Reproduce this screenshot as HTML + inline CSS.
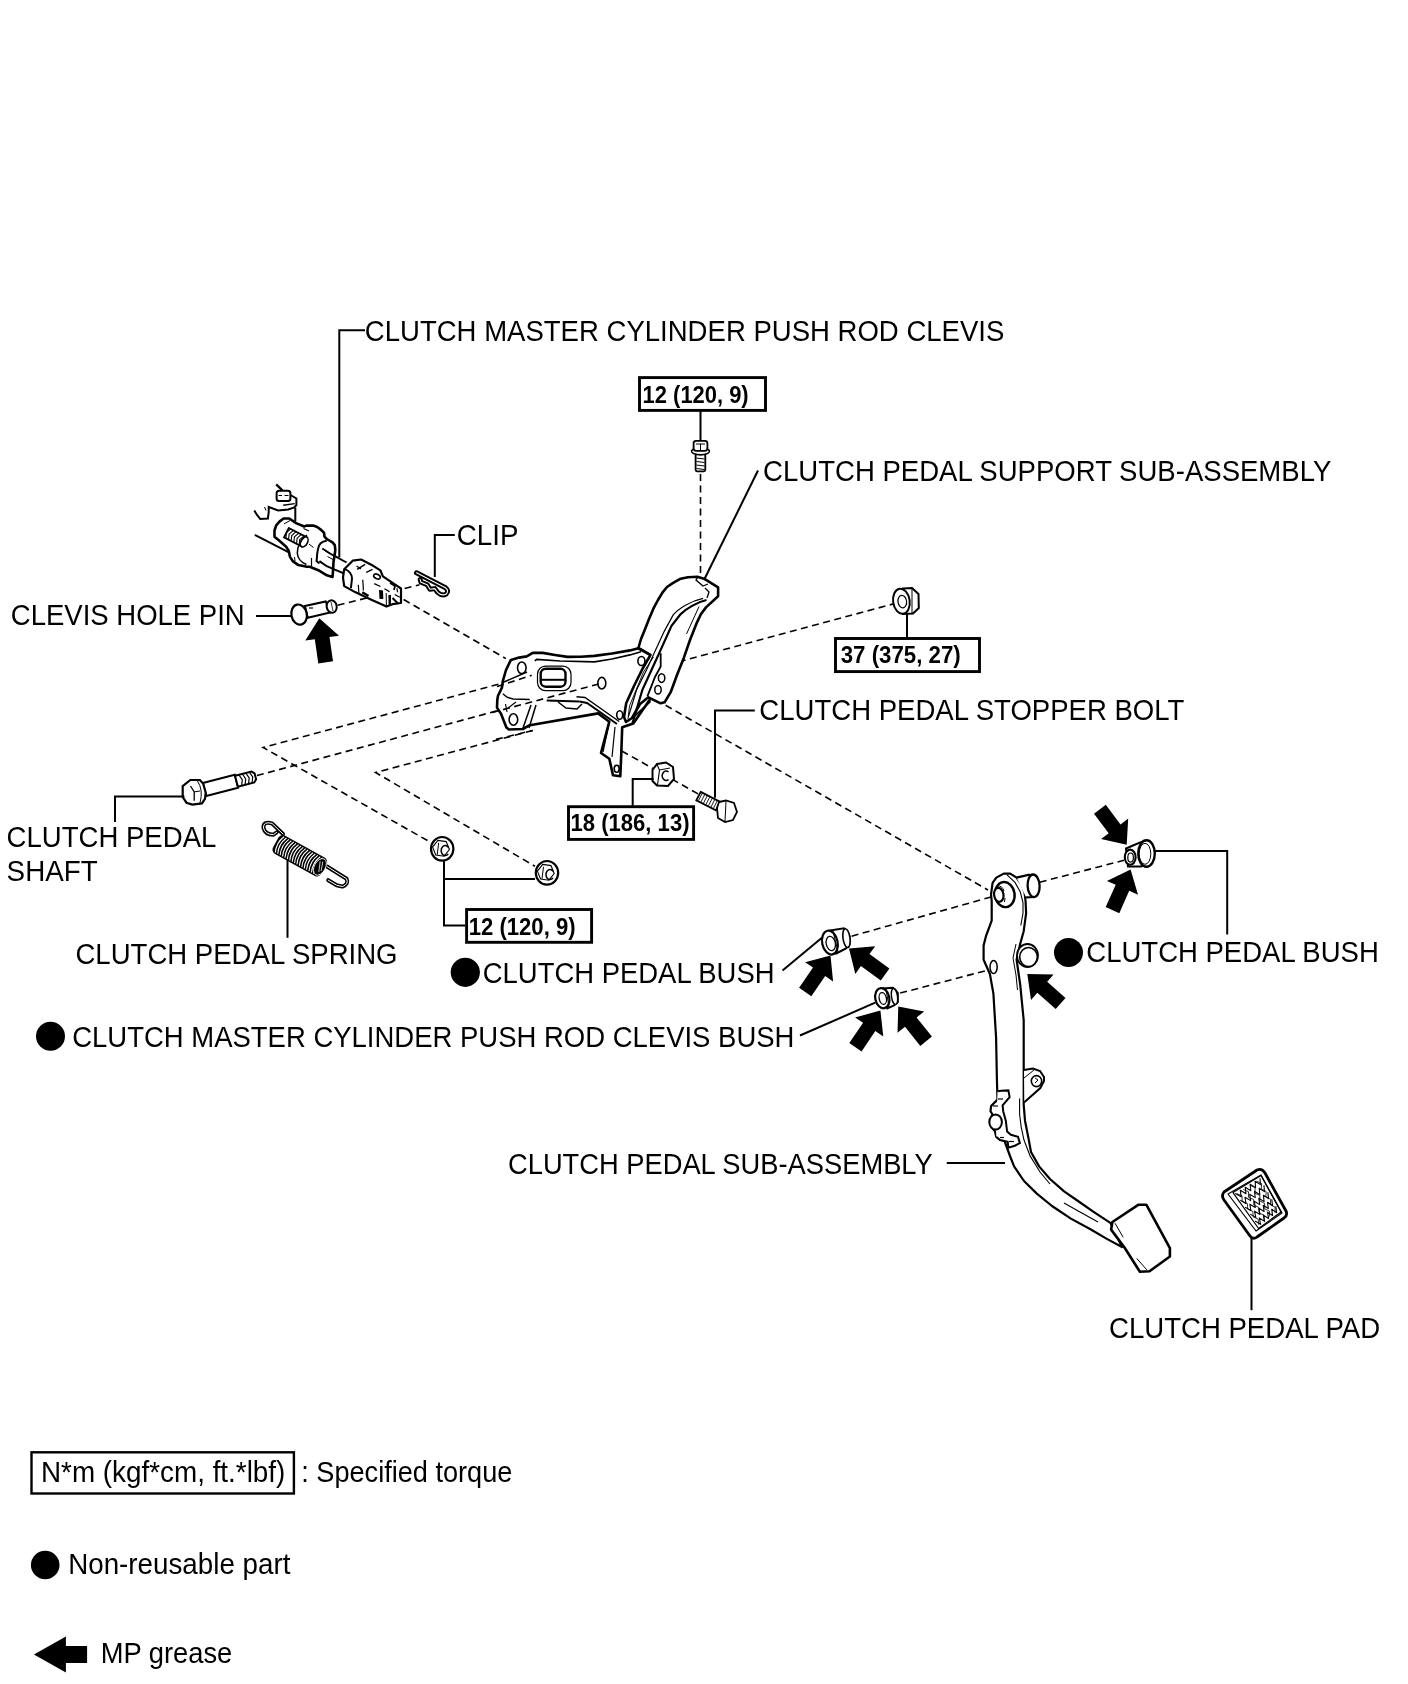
<!DOCTYPE html>
<html><head><meta charset="utf-8"><style>
html,body{margin:0;padding:0;background:#fff;}
svg{display:block;will-change:transform;}
text{font-family:"Liberation Sans",sans-serif;fill:#000;}
</style></head><body>
<svg width="1408" height="1684" viewBox="0 0 1408 1684">
<rect width="1408" height="1684" fill="#fff"/>
<path d="M700.5 474 L700.5 580" fill="none" stroke="#000" stroke-width="1.6" stroke-dasharray="7 4.5"/>
<path d="M337.7 605.2 L419.5 584.8" fill="none" stroke="#000" stroke-width="1.6" stroke-dasharray="7 4.5"/>
<path d="M403.6 599.5 L505.9 658.6" fill="none" stroke="#000" stroke-width="1.6" stroke-dasharray="7 4.5"/>
<path d="M256.9 775.6 L893 604" fill="none" stroke="#000" stroke-width="1.6" stroke-dasharray="7 4.5"/>
<path d="M531.7 675.3 L263.1 747.5 L428.8 841.3" fill="none" stroke="#000" stroke-width="1.6" stroke-dasharray="7 4.5"/>
<path d="M532.7 730.5 L375.6 772.5 L535 866.3" fill="none" stroke="#000" stroke-width="1.6" stroke-dasharray="7 4.5"/>
<path d="M621.8 751 L701 795.5" fill="none" stroke="#000" stroke-width="1.6" stroke-dasharray="7 4.5"/>
<path d="M665.6 705.3 L988 890" fill="none" stroke="#000" stroke-width="1.6" stroke-dasharray="7 4.5"/>
<path d="M851.6 936.2 L998 895" fill="none" stroke="#000" stroke-width="1.6" stroke-dasharray="7 4.5"/>
<path d="M1039.7 882.2 L1124 860.3" fill="none" stroke="#000" stroke-width="1.6" stroke-dasharray="7 4.5"/>
<path d="M900.2 993.1 L993.4 968.7" fill="none" stroke="#000" stroke-width="1.6" stroke-dasharray="7 4.5"/>
<path d="M502.9 680.8 L506 670 L510.9 659.9 L519 657.6 L526.8 656.4 L532.7 652.9 L542.7 652.9 L555 655 L567.5 656.9 L581 656.8 L594.4 655.9 L612 653.5 L630 650.4 L638.4 648.3 L650.5 654.9 L649.9 699.6 L633.3 723.6 L622.2 727.3 L621.3 753.1 L620.3 776.2 L613 775.3 L609.3 758.7 L601 753 L609.3 721.7 L598.2 713.4 L529.8 725.2 L522.8 729 L508.9 729.5 L506.4 727.5 L500.9 713.6 L497 707.6 L497.3 700 L498 695.7 L501.9 687.7 Z" fill="#fff" stroke="#000" stroke-width="2.6" stroke-linejoin="round"/>
<path d="M534.7 660.9 L536.7 659.4 L560 661 L594.4 661.9 L612 659 L630 654.9 L641 651.8" fill="none" stroke="#000" stroke-width="1.6"/>
<rect x="540.7" y="668.8" width="24.8" height="17.9" rx="5" fill="#fff" stroke="#000" stroke-width="2.4"/>
<path d="M540.7 679.8 L565.5 679.8" fill="none" stroke="#000" stroke-width="2"/>
<rect x="537.5" y="666.2" width="33.5" height="24.4" rx="8" fill="none" stroke="#000" stroke-width="1.2"/>
<ellipse cx="521.8" cy="667.8" rx="4.3" ry="5.8" transform="rotate(0 521.8 667.8)" fill="none" stroke="#000" stroke-width="1.6"/>
<ellipse cx="601.8" cy="683.2" rx="4" ry="5.8" transform="rotate(0 601.8 683.2)" fill="none" stroke="#000" stroke-width="1.6"/>
<ellipse cx="513.4" cy="719.5" rx="4.3" ry="5.8" transform="rotate(0 513.4 719.5)" fill="none" stroke="#000" stroke-width="1.6"/>
<ellipse cx="619.7" cy="715" rx="3" ry="4.2" transform="rotate(0 619.7 715)" fill="none" stroke="#000" stroke-width="1.6"/>
<ellipse cx="641.4" cy="661" rx="3.5" ry="4.5" transform="rotate(0 641.4 661)" fill="none" stroke="#000" stroke-width="1.6"/>
<ellipse cx="616.7" cy="768.8" rx="2.5" ry="3.5" transform="rotate(0 616.7 768.8)" fill="none" stroke="#000" stroke-width="1.6"/>
<path d="M502.9 693.7 L506.9 697.2 L513 699 L529.8 699.6" fill="none" stroke="#000" stroke-width="1.5"/>
<path d="M504 682 L527 672" fill="none" stroke="#000" stroke-width="1.5"/>
<path d="M516 702 L508 708" fill="none" stroke="#000" stroke-width="1.2"/>
<path d="M531 705 L523 728" fill="none" stroke="#000" stroke-width="1.5"/>
<path d="M536 705 L529 728" fill="none" stroke="#000" stroke-width="1.5"/>
<path d="M505.5 704 L507 712" fill="none" stroke="#000" stroke-width="1.2"/>
<path d="M546.7 700.6 L579.5 701.6" fill="none" stroke="#000" stroke-width="2"/>
<path d="M558 702 L566 708 L577 709 L582 704" fill="none" stroke="#000" stroke-width="1.5"/>
<path d="M576.5 696.7 L585 697.5 L619.2 721.5" fill="none" stroke="#000" stroke-width="1.4"/>
<path d="M579.5 701.6 L587 703 L617 724" fill="none" stroke="#000" stroke-width="2"/>
<path d="M609 724 L603 752" fill="none" stroke="#000" stroke-width="1.2"/>
<path d="M615 727 L612 757" fill="none" stroke="#000" stroke-width="1.2"/>
<path d="M638.4 648 L641 639 L644.4 630.7 L649 619 L653.5 608.4 L658 600 L662.6 592.3 L667 587 L672.7 583.2 L680.7 578.7 L688 577.3 L697.3 576.7 L704 578.7 L718.1 587.3 L718.1 596.3 L706 607.4 L701 614 L696.9 622.6 L690 640 L683.8 657.9 L677 675 L670.7 692.2 L664.6 702.3 L660.6 703.3 L648.4 697.3 L640 704 L632 718 L626 722 L624 717 L626.2 703.3 L634 686 L642.4 669 L650.5 654.9 Z" fill="#fff" stroke="#000" stroke-width="2.6" stroke-linejoin="round"/>
<path d="M703.1 598.3 C690 601, 678 609, 673.2 614.9 L664.1 631.6 L654.9 651.5 L646.6 669.8 L636.6 689.8 L628.3 717.2" fill="none" stroke="#000" stroke-width="1.2"/>
<path d="M706.5 600 C697 602, 686 609, 680.7 614.1 L671.5 625.7 L660.7 649.9 L651.6 669.8 L642.4 689.8 L635 714.7 L632.5 723" fill="none" stroke="#000" stroke-width="2.2"/>
<path d="M653.5 657 L643.5 672 L636 690 L629.5 706 L628 719" fill="none" stroke="#000" stroke-width="0.9"/>
<path d="M699 606.6 L686.5 634" fill="none" stroke="#000" stroke-width="1"/>
<path d="M698 576.8 L696 580 L703 586 L708 584" fill="none" stroke="#000" stroke-width="1.3"/>
<path d="M705 588 L709 592 L707 598" fill="none" stroke="#000" stroke-width="1.3"/>
<path d="M660.7 653.2 L660.7 666.5 L655 677 L647.4 696.4" fill="none" stroke="#000" stroke-width="1.8"/>
<ellipse cx="661.6" cy="678.1" rx="3.2" ry="4.3" transform="rotate(0 661.6 678.1)" fill="none" stroke="#000" stroke-width="1.5"/>
<ellipse cx="658" cy="689.7" rx="3.2" ry="4.3" transform="rotate(0 658 689.7)" fill="none" stroke="#000" stroke-width="1.5"/>
<path d="M650.5 701.3 L633.3 717.4" fill="none" stroke="#000" stroke-width="1.8"/>
<path d="M497 686.6 L531.7 675.3" fill="none" stroke="#000" stroke-width="1.6" stroke-dasharray="7 4.5"/>
<path d="M492 712.6 L600 683.6" fill="none" stroke="#000" stroke-width="1.6" stroke-dasharray="7 4.5"/>
<path d="M496 739.4 L532.7 730.5" fill="none" stroke="#000" stroke-width="1.6" stroke-dasharray="7 4.5"/>
<rect x="695.6" y="454.2" width="9.7" height="17.1" rx="1.5" fill="#fff" stroke="#000" stroke-width="1.8"/>
<path d="M696.5 458 L704.5 459" fill="none" stroke="#000" stroke-width="1"/>
<path d="M696.5 461.5 L704.5 462.5" fill="none" stroke="#000" stroke-width="1"/>
<path d="M696.5 465 L704.5 466" fill="none" stroke="#000" stroke-width="1"/>
<path d="M696.5 468.5 L704.5 469.5" fill="none" stroke="#000" stroke-width="1"/>
<ellipse cx="700.5" cy="451.3" rx="9" ry="3.6" transform="rotate(0 700.5 451.3)" fill="#fff" stroke="#000" stroke-width="1.6"/>
<rect x="693.6" y="440.8" width="13.8" height="10" rx="2.5" fill="#fff" stroke="#000" stroke-width="1.8"/>
<path d="M696 444 L705 444" fill="none" stroke="#000" stroke-width="1"/>
<path d="M700.5 444 L700.5 451" fill="none" stroke="#000" stroke-width="1"/>
<path d="M903 588.5 L912 588 L918.5 594 L918.8 608 L913 613.5 L903 614 Z" fill="#fff" stroke="#000" stroke-width="2"/>
<ellipse cx="901.4" cy="601.3" rx="8.3" ry="12.6" transform="rotate(-8 901.4 601.3)" fill="#fff" stroke="#000" stroke-width="2"/>
<ellipse cx="902.3" cy="601.6" rx="4.3" ry="6.3" transform="rotate(-8 902.3 601.6)" fill="none" stroke="#000" stroke-width="1.2"/>
<path d="M912 589 L912 613" fill="none" stroke="#000" stroke-width="1"/>
<path d="M657 764 L666 762.5 L673 767 L674 779 L668 786 L657 785.5 L652.5 781 L652.5 770 Z" fill="#fff" stroke="#000" stroke-width="2"/>
<path d="M657 764.5 L659.5 770 L657.5 785" fill="none" stroke="#000" stroke-width="1.1"/>
<path d="M659.5 770 L670 768" fill="none" stroke="#000" stroke-width="1"/>
<path d="M668.5 772 A3.8 4.8 0 1 0 668.5 779.5" fill="none" stroke="#000" stroke-width="1.5"/>
<path d="M700.7 791.9 L720.3 801.9 L715.9 810.4 L696.3 800.4 Z" fill="#fff" stroke="#000" stroke-width="1.8"/>
<path d="M702.1 793.5 L698.5 800.6" fill="none" stroke="#000" stroke-width="0.9"/>
<path d="M704.6 794.8 L701 801.9" fill="none" stroke="#000" stroke-width="0.9"/>
<path d="M707.1 796 L703.5 803.2" fill="none" stroke="#000" stroke-width="0.9"/>
<path d="M709.6 797.3 L706 804.4" fill="none" stroke="#000" stroke-width="0.9"/>
<path d="M712.1 798.6 L708.5 805.7" fill="none" stroke="#000" stroke-width="0.9"/>
<path d="M714.6 799.8 L711 807" fill="none" stroke="#000" stroke-width="0.9"/>
<path d="M717.1 801.1 L713.5 808.2" fill="none" stroke="#000" stroke-width="0.9"/>
<path d="M719 802 L726 800.5 L734 803 L737 812 L733 820 L725 822 L718 818 L717 808 Z" fill="#fff" stroke="#000" stroke-width="1.8"/>
<path d="M726 801 L725 821" fill="none" stroke="#000" stroke-width="1"/>
<path d="M202.8 783 L234.8 774.8 L238.1 787.7 L206.2 796 Z" fill="#fff" stroke="#000" stroke-width="2"/>
<path d="M235 775.8 L251.5 771.6 L254.6 773.5 L256.1 779.3 L254.3 782.4 L237.9 786.7 Z" fill="#fff" stroke="#000" stroke-width="2"/>
<path d="M239 775.1 L242.3 779.7 L241.6 785.4" fill="none" stroke="#000" stroke-width="1.2"/>
<path d="M242.5 774.2 L245.7 778.8 L245.1 784.5" fill="none" stroke="#000" stroke-width="1.2"/>
<path d="M246 773.3 L249.2 777.9 L248.6 783.6" fill="none" stroke="#000" stroke-width="1.2"/>
<path d="M249.5 772.4 L252.7 777 L252.1 782.7" fill="none" stroke="#000" stroke-width="1.2"/>
<path d="M182.7 786.1 L190.3 780 L199.9 780 L203.1 783.5 L205.7 792.5 L205 798.9 L201.9 803.4 L192.3 804.6 L186.5 802.7 L182.7 797 Z" fill="#fff" stroke="#000" stroke-width="2.2"/>
<path d="M190.5 786 L194.2 791.9 L194.2 800.8" fill="none" stroke="#000" stroke-width="1.3"/>
<path d="M194.2 791.9 L200 791" fill="none" stroke="#000" stroke-width="1"/>
<path d="M197.5 781 Q203.5 790 200 803" fill="none" stroke="#000" stroke-width="1"/>
<path d="M283 834 L272 823.4 Q263 821 263.5 828 Q265 834.5 273.5 834.7 L276.5 832.5" fill="none" stroke="#000" stroke-width="4" stroke-linecap="round" stroke-linejoin="round"/>
<path d="M283 834 L272 823.4 Q263 821 263.5 828 Q265 834.5 273.5 834.7 L276.5 832.5" fill="none" stroke="#fff" stroke-width="1" stroke-linecap="round" stroke-linejoin="round"/>
<path d="M327 866.5 L346.6 878.8 Q349 884 342.4 886.6 L336.7 885.2 L328.2 880.2" fill="none" stroke="#000" stroke-width="4" stroke-linecap="round" stroke-linejoin="round"/>
<path d="M327 866.5 L346.6 878.8 Q349 884 342.4 886.6 L336.7 885.2 L328.2 880.2" fill="none" stroke="#fff" stroke-width="1" stroke-linecap="round" stroke-linejoin="round"/>
<g transform="translate(298.5 855) rotate(29)">
<rect x="-26" y="-10.5" width="55" height="21" rx="5" fill="#000"/>
<path d="M-21.5 -9 Q-25.5 0 -21.5 9" fill="none" stroke="#fff" stroke-width="1.1"/>
<path d="M-18.8 -9 Q-22.8 0 -18.8 9" fill="none" stroke="#fff" stroke-width="1.1"/>
<path d="M-16.0 -9 Q-20.0 0 -16.0 9" fill="none" stroke="#fff" stroke-width="1.1"/>
<path d="M-13.2 -9 Q-17.2 0 -13.2 9" fill="none" stroke="#fff" stroke-width="1.1"/>
<path d="M-10.5 -9 Q-14.5 0 -10.5 9" fill="none" stroke="#fff" stroke-width="1.1"/>
<path d="M-7.8 -9 Q-11.8 0 -7.8 9" fill="none" stroke="#fff" stroke-width="1.1"/>
<path d="M-5.0 -9 Q-9.0 0 -5.0 9" fill="none" stroke="#fff" stroke-width="1.1"/>
<path d="M-2.2 -9 Q-6.2 0 -2.2 9" fill="none" stroke="#fff" stroke-width="1.1"/>
<path d="M0.5 -9 Q-3.5 0 0.5 9" fill="none" stroke="#fff" stroke-width="1.1"/>
<path d="M3.2 -9 Q-0.8 0 3.2 9" fill="none" stroke="#fff" stroke-width="1.1"/>
<path d="M6.0 -9 Q2.0 0 6.0 9" fill="none" stroke="#fff" stroke-width="1.1"/>
<path d="M8.8 -9 Q4.8 0 8.8 9" fill="none" stroke="#fff" stroke-width="1.1"/>
<path d="M11.5 -9 Q7.5 0 11.5 9" fill="none" stroke="#fff" stroke-width="1.1"/>
<path d="M14.2 -9 Q10.2 0 14.2 9" fill="none" stroke="#fff" stroke-width="1.1"/>
<path d="M17.0 -9 Q13.0 0 17.0 9" fill="none" stroke="#fff" stroke-width="1.1"/>
<path d="M19.8 -9 Q15.8 0 19.8 9" fill="none" stroke="#fff" stroke-width="1.1"/>
<path d="M22.5 -9 Q18.5 0 22.5 9" fill="none" stroke="#fff" stroke-width="1.1"/>
<path d="M25.2 -9 Q21.2 0 25.2 9" fill="none" stroke="#fff" stroke-width="1.1"/>
<ellipse cx="24.5" cy="0" rx="5.5" ry="9" fill="#000" stroke="#fff" stroke-width="0.8"/>
<path d="M22 -5 L26 5 M24.5 -6 L27.5 3" stroke="#fff" stroke-width="0.7"/>
</g>
<ellipse cx="442.2" cy="848.8" rx="11.2" ry="11.8" transform="rotate(0 442.2 848.8)" fill="#fff" stroke="#000" stroke-width="2.2"/>
<path d="M432.6 847.1 L437.9 840.4 L446.2 841.6 L449.4 849.5 L444.1 856.2 L435.8 855 Z" fill="none" stroke="#000" stroke-width="1.1"/>
<path d="M438.7 842.8 L437.2 854.8" fill="none" stroke="#000" stroke-width="1"/>
<path d="M448.2 847.3 A4 5 0 1 0 448.2 853.8" fill="none" stroke="#000" stroke-width="1.5"/>
<ellipse cx="547" cy="872.8" rx="11.2" ry="11.8" transform="rotate(0 547 872.8)" fill="#fff" stroke="#000" stroke-width="2.2"/>
<path d="M537.4 871.1 L542.7 864.4 L551 865.6 L554.2 873.5 L548.9 880.2 L540.6 879 Z" fill="none" stroke="#000" stroke-width="1.1"/>
<path d="M543.5 866.8 L542 878.8" fill="none" stroke="#000" stroke-width="1"/>
<path d="M553.0 871.3 A4 5 0 1 0 553.0 877.8" fill="none" stroke="#000" stroke-width="1.5"/>
<path d="M304.9 605.9 L325.7 601.4 L330 612.5 L307.8 617.8 Z" fill="#fff" stroke="#000" stroke-width="2"/>
<ellipse cx="331.7" cy="606.6" rx="5" ry="6.3" transform="rotate(-10 331.7 606.6)" fill="#fff" stroke="#000" stroke-width="2"/>
<path d="M331 602 L333 611" fill="none" stroke="#000" stroke-width="0.8"/>
<ellipse cx="299.1" cy="614.6" rx="7.7" ry="10.2" transform="rotate(-12 299.1 614.6)" fill="#fff" stroke="#000" stroke-width="2.2"/>
<path d="M309 608 L313 608" fill="none" stroke="#000" stroke-width="1.2"/>
<path d="M416.5 572.8 L445.5 587.8 Q449.5 591 446 594.3 Q441.5 596.2 437.5 592.3 L434.8 588.6 L430 589.3 L427.2 584.8 L421 582.3 L420.2 579.6" fill="none" stroke="#000" stroke-width="5" stroke-linecap="round" stroke-linejoin="round"/>
<path d="M416.5 572.8 L445.5 587.8 Q449.5 591 446 594.3 Q441.5 596.2 437.5 592.3 L434.8 588.6 L430 589.3 L427.2 584.8 L421 582.3 L420.2 579.6" fill="none" stroke="#fff" stroke-width="1.1" stroke-linecap="round" stroke-linejoin="round"/>
<path d="M254.8 534.8 L292.3 554.1" fill="none" stroke="#000" stroke-width="2"/>
<path d="M254.3 510.4 L257 515 L260.2 518.9 L267.9 518.5 L268.7 512.1 L268.7 507 L278.1 510.4 L288.3 509.5 L294.3 507.4 L296.4 505 L296.4 498.5 L290.5 495" fill="none" stroke="#000" stroke-width="2"/>
<path d="M264.5 507 L266 510.5" fill="none" stroke="#000" stroke-width="1"/>
<path d="M276.2 484.4 L282.4 490.4" fill="none" stroke="#000" stroke-width="2.2"/>
<path d="M295.3 507.5 L295.3 521" fill="none" stroke="#000" stroke-width="2"/>
<path d="M283.2 505.3 L294.7 503.6" fill="none" stroke="#000" stroke-width="1.4"/>
<rect x="276.6" y="490.8" width="13.8" height="10.3" rx="2.5" fill="#fff" stroke="#000" stroke-width="2"/>
<path d="M278.5 495.5 L282 495.5 M284.5 495.5 L288.5 495.5" stroke="#000" stroke-width="1.1"/>
<path d="M283.6 518.5 L289.3 518.5 L296.1 523.1 L304.1 526.5 L306.4 525.6 L313.2 525.6 L317.2 527 L321.1 529.9 L324 532.7 L324.5 536.7 L326.8 539 L332.5 542.4 L334.8 545.2 L335.3 549.8 L334.8 553.8 L333.5 562 L333 571 L332.5 577 L326.8 575.3 L318.3 570.2 L309.8 566.8 L306.9 566.8 L298.4 565.1 L292.7 561.1 L289.9 556.6 L288.8 550.9 L285.9 546.4 L278.5 540.1 L274.5 536.7 L274.5 530.5 L276.2 525.3 L279.7 521.4 Z" fill="#fff" stroke="#000" stroke-width="2.6" stroke-linejoin="round"/>
<path d="M288.8 528 L306.6 537.2 L301.8 546.6 L284 537.4 Z" fill="#fff" stroke="#000" stroke-width="1.8"/>
<path d="M290.5 529.2 L286.4 532.7 L285.9 538.1" fill="none" stroke="#000" stroke-width="1.1"/>
<path d="M293.2 530.6 L289.1 534.1 L288.6 539.4" fill="none" stroke="#000" stroke-width="1.1"/>
<path d="M295.8 531.9 L291.7 535.5 L291.2 540.8" fill="none" stroke="#000" stroke-width="1.1"/>
<path d="M298.5 533.3 L294.4 536.8 L293.9 542.2" fill="none" stroke="#000" stroke-width="1.1"/>
<path d="M301.1 534.7 L297.1 538.2 L296.6 543.6" fill="none" stroke="#000" stroke-width="1.1"/>
<path d="M303.8 536.1 L299.7 539.6 L299.2 545" fill="none" stroke="#000" stroke-width="1.1"/>
<ellipse cx="304.2" cy="541.9" rx="3.3" ry="5.5" transform="rotate(27 304.2 541.9)" fill="#fff" stroke="#000" stroke-width="1.6"/>
<path d="M306.9 535 Q297 543 297.3 553.2 Q298 561 306.4 564.5" fill="none" stroke="#000" stroke-width="1.5"/>
<path d="M326.8 540.7 Q319 541.5 318 549 L317.2 553.75 L316.6 561.1 L319.4 563.4" fill="none" stroke="#000" stroke-width="2"/>
<path d="M284 524 L290 520.5" fill="none" stroke="#000" stroke-width="1"/>
<path d="M309 544 L313.5 547.5" fill="none" stroke="#000" stroke-width="1"/>
<path d="M294.5 557 L295 561" fill="none" stroke="#000" stroke-width="1"/>
<path d="M311.5 558 L311.5 566" fill="none" stroke="#000" stroke-width="1.2"/>
<path d="M303.5 528.5 L309 531" fill="none" stroke="#000" stroke-width="1.2"/>
<path d="M322.3 548.6 L332.5 554.9 L346.6 562.5" fill="none" stroke="#000" stroke-width="1.8"/>
<path d="M319.4 561.1 L326.8 566.2 L334.8 569.7 L344.2 573.5" fill="none" stroke="#000" stroke-width="2"/>
<path d="M324.5 550.5 L330 554" fill="none" stroke="#000" stroke-width="1"/>
<path d="M327.5 556.5 L333 559.5" fill="none" stroke="#000" stroke-width="1"/>
<path d="M336 556 L343 561" fill="none" stroke="#000" stroke-width="1"/>
<path d="M344.2 569.2 L352.7 560.7 L361.1 559.5 L370.8 564.4 L380.4 570.4 L382.9 576.4 L393.7 583.7 L401 588.5 L401 603 L392.5 604.2 L386.5 606.6 L370.8 599.4 L355.1 592.1 L344.2 586.1 L343 577.7 Z" fill="#fff" stroke="#000" stroke-width="2.2" stroke-linejoin="round"/>
<path d="M344.4 568.9 Q352 572 352 578.5 L350.9 588.2" fill="none" stroke="#000" stroke-width="2"/>
<path d="M357.2 569.4 L365.1 564.3" fill="none" stroke="#000" stroke-width="1.6"/>
<path d="M366.2 572.3 L372.5 569.4" fill="none" stroke="#000" stroke-width="1.4"/>
<path d="M356.5 566 L361 569" fill="none" stroke="#000" stroke-width="1.2"/>
<ellipse cx="377" cy="576.5" rx="3.5" ry="2.2" transform="rotate(25 377 576.5)" fill="none" stroke="#000" stroke-width="1.6"/>
<path d="M374.2 583.6 L380.5 586.5" fill="none" stroke="#000" stroke-width="1.3"/>
<path d="M362.8 579.7 L363.4 590.5" fill="none" stroke="#000" stroke-width="1.2"/>
<path d="M358.3 584.8 L358.9 593.3" fill="none" stroke="#000" stroke-width="1.2"/>
<path d="M362.3 592.2 L368.5 596.1" fill="none" stroke="#000" stroke-width="2.4"/>
<path d="M384.4 588.8 L389.5 591.6" fill="none" stroke="#000" stroke-width="1.2"/>
<path d="M394.7 594.4 L399.8 597.3" fill="none" stroke="#000" stroke-width="1.2"/>
<path d="M397 588.2 L397.5 592.2" fill="none" stroke="#000" stroke-width="1.2"/>
<path d="M390 583 L395 586 L394 590" fill="none" stroke="#000" stroke-width="1.8"/>
<path d="M379 590 L383 590.5 L383.3 599 L379.5 599 Z" fill="#000"/>
<path d="M388.4 595 L391 595 L391 605.5 L388.6 605.5 Z" fill="#000"/>
<path d="M386.2 593 L386.4 606" fill="none" stroke="#000" stroke-width="1"/>
<path d="M392.5 598 L398 603.5" fill="none" stroke="#000" stroke-width="2"/>
<path d="M996.3 877.6 L992.6 882.9 L991 894.6 L991.7 901 L991.7 920.6 L986 936 L983.6 945.5 L983.6 959.7 L989.9 974 L993.4 993.6 L996.1 1038 L996.9 1079.2 L997.5 1099.6 L991.1 1106 L990.5 1111.2 L992.4 1114.3 L990 1122 L993 1129 L994.9 1131 L996.2 1136.7 L1000 1139.9 L1004.5 1141 L1010 1156 L1014.1 1166.4 L1024 1181 L1036.8 1193.6 L1052 1206 L1070.9 1218.6 L1090 1229 L1107.3 1239.1 L1122 1247 L1110.7 1223.2 L1093.6 1211.8 L1078 1201 L1064.1 1191.4 L1050 1179 L1039.1 1166.4 L1031 1152 L1028.8 1139.9 L1025 1120.7 L1023.7 1104.8 L1023.7 1064.8 L1023.7 1020.3 L1020.2 984.7 L1016.6 959.7 L1020.2 943.7 L1023.7 931.2 L1026.1 913.3 L1025.6 901.6 L1024.5 892 L1021.9 885 L1016.6 877.6 L1010.2 873.6 L1003.8 873.6 Z" fill="#fff" stroke="#000" stroke-width="2.2" stroke-linejoin="round"/>
<path d="M1007 874.9 L1015 882.4 L1020.3 892 L1023 902.6 L1023 913.3 L1020.8 925.5" fill="none" stroke="#000" stroke-width="1.1"/>
<path d="M1016 944 L1013 958 L1016 975 L1017.5 990" fill="none" stroke="#000" stroke-width="1"/>
<path d="M1019.6 1098.4 L1019.6 1114.3 L1021.2 1127.1 L1024 1140 L1030.1 1155.9 L1040 1172 L1050 1184" fill="none" stroke="#000" stroke-width="1.1"/>
<path d="M1064 1203 L1080 1212 L1098 1222" fill="none" stroke="#000" stroke-width="1.1"/>
<path d="M997.5 1091.3 L1001.3 1090.7 L1008.4 1090.4 L1009.6 1097.1 L1005.8 1101.6 L1002.6 1105.4 L1003.2 1111.2 L1005.8 1120.7 L1007.1 1131.6 L1010.9 1134.8 L1018 1136.7 L1019.9 1143.1 L1014.8 1145.7 L1008.4 1147.6 L1007.7 1141.8 L1000 1139.9 L996.2 1136.7" fill="#fff" stroke="#000" stroke-width="2"/>
<path d="M998 1099 L1003 1099" fill="none" stroke="#000" stroke-width="1.2"/>
<path d="M993 1106 L998 1106" fill="none" stroke="#000" stroke-width="1.2"/>
<path d="M1000 1137.5 L1004 1137.5" fill="none" stroke="#000" stroke-width="1.2"/>
<path d="M1009 1141.5 L1014 1141.5" fill="none" stroke="#000" stroke-width="1.2"/>
<ellipse cx="995.6" cy="1122" rx="6.3" ry="7.5" transform="rotate(0 995.6 1122)" fill="#fff" stroke="#000" stroke-width="2"/>
<path d="M1024 1070 L1027 1069.5 L1033 1068.5 L1040 1071 L1044 1077 L1044 1081 L1040.3 1088.1 L1024.3 1102.2" fill="#fff" stroke="#000" stroke-width="2"/>
<ellipse cx="1036.5" cy="1081.1" rx="5.2" ry="5.5" transform="rotate(0 1036.5 1081.1)" fill="none" stroke="#000" stroke-width="1.6"/>
<path d="M1035 1078 L1038 1080 L1035 1083" fill="none" stroke="#000" stroke-width="1"/>
<path d="M1024 1078 L1034 1070" fill="none" stroke="#000" stroke-width="1"/>
<ellipse cx="1004.8" cy="894.6" rx="9.8" ry="12.6" transform="rotate(-8 1004.8 894.6)" fill="#fff" stroke="#000" stroke-width="2.4"/>
<ellipse cx="998.8" cy="894.8" rx="4.7" ry="7" transform="rotate(-8 998.8 894.8)" fill="#fff" stroke="#000" stroke-width="2.2"/>
<path d="M997 886 Q1002 885 1004 891" fill="none" stroke="#000" stroke-width="1"/>
<path d="M1005 898 L1004.5 902" fill="none" stroke="#000" stroke-width="1"/>
<path d="M1016.5 877.6 L1028.3 874.9 L1033.6 875 L1033 897 L1026.1 897.3" fill="#fff" stroke="#000" stroke-width="2.2"/>
<ellipse cx="1033.6" cy="885.8" rx="6" ry="11.3" transform="rotate(-3 1033.6 885.8)" fill="#fff" stroke="#000" stroke-width="2.3"/>
<ellipse cx="1027.5" cy="955.5" rx="10.5" ry="11.5" transform="rotate(0 1027.5 955.5)" fill="#fff" stroke="#000" stroke-width="1.8"/>
<ellipse cx="1028.5" cy="957" rx="8.8" ry="9.5" transform="rotate(0 1028.5 957)" fill="#fff" stroke="#000" stroke-width="1.6"/>
<ellipse cx="993.6" cy="967" rx="3.6" ry="6.5" transform="rotate(0 993.6 967)" fill="none" stroke="#000" stroke-width="1.5"/>
<path d="M1112.4 1222 L1138.6 1204.7 L1146.3 1204.7 L1169.9 1248.2 L1169.9 1256.5 L1149.5 1271.2 L1139.9 1271.8 L1124.5 1247.5 L1111.1 1229.6 Z" fill="#fff" stroke="#000" stroke-width="2.6" stroke-linejoin="round"/>
<path d="M1115 1223.2 L1123.2 1237.3" fill="none" stroke="#000" stroke-width="1"/>
<path d="M1136.7 1258.4 L1146.9 1269.9" fill="none" stroke="#000" stroke-width="1"/>
<path d="M1224 1192 Q1221 1196 1224 1200 L1250 1236 Q1253 1240 1257 1237 L1284 1218 Q1288 1215 1286 1211 L1265 1173 Q1262 1168 1257 1170 Z" fill="#fff" stroke="#000" stroke-width="2.8" stroke-linejoin="round"/>
<path d="M1228 1194 L1256 1231 L1282 1213 L1261 1175 Z" fill="none" stroke="#000" stroke-width="1.2" stroke-linejoin="round"/>
<path d="M1233 1192.6 L1258.6 1228.5 L1281 1212 L1261 1175.5 Z" fill="none" stroke="#000" stroke-width="1.2" stroke-linejoin="round"/>
<path d="M1235.3 1193.4 L1241.2 1196.7 L1240.3 1190.3 L1246 1193.7 L1245.2 1187.3 L1250.8 1190.7 L1250.1 1184.3 L1255.6 1187.6 L1255.1 1181.2 L1260.4 1184.6 L1260 1178.2" fill="none" stroke="#000" stroke-width="1.1" stroke-linejoin="round"/>
<path d="M1240.3 1200.3 L1246 1203.6 L1245 1197.3 L1250.6 1200.6 L1249.7 1194.2 L1255.2 1197.6 L1254.5 1191.2 L1259.8 1194.6 L1259.2 1188.2 L1264.4 1191.6 L1264 1185.2" fill="none" stroke="#000" stroke-width="1.1" stroke-linejoin="round"/>
<path d="M1245.2 1207.2 L1250.9 1210.5 L1249.8 1204.2 L1255.3 1207.5 L1254.3 1201.2 L1259.7 1204.6 L1258.8 1198.2 L1264.1 1201.6 L1263.4 1195.2 L1268.5 1198.6 L1267.9 1192.2" fill="none" stroke="#000" stroke-width="1.1" stroke-linejoin="round"/>
<path d="M1250.2 1214.1 L1255.8 1217.4 L1254.5 1211.1 L1259.9 1214.5 L1258.9 1208.1 L1264.1 1211.5 L1263.2 1205.2 L1268.3 1208.5 L1267.5 1202.2 L1272.5 1205.6 L1271.8 1199.2" fill="none" stroke="#000" stroke-width="1.1" stroke-linejoin="round"/>
<path d="M1255.1 1221 L1260.6 1224.4 L1259.3 1218 L1264.6 1221.4 L1263.4 1215.1 L1268.6 1218.5 L1267.5 1212.1 L1272.6 1215.5 L1271.7 1209.2 L1276.6 1212.6 L1275.8 1206.2" fill="none" stroke="#000" stroke-width="1.1" stroke-linejoin="round"/>
<path d="M1236.6 1193.6 L1242 1195.8 L1242.2 1201.3 L1247.4 1203.6 L1247.7 1209.1 L1252.8 1211.4 L1253.2 1216.9 L1258.2 1219.2 L1258.8 1224.7" fill="none" stroke="#000" stroke-width="0.8" stroke-linejoin="round"/>
<path d="M1243.3 1189.5 L1248.5 1191.7 L1248.5 1197.3 L1253.6 1199.5 L1253.8 1205 L1258.7 1207.3 L1259 1212.8 L1263.8 1215.1 L1264.2 1220.6" fill="none" stroke="#000" stroke-width="0.8" stroke-linejoin="round"/>
<path d="M1250 1185.3 L1255.1 1187.6 L1254.9 1193.2 L1259.8 1195.4 L1259.8 1201 L1264.6 1203.3 L1264.7 1208.8 L1269.4 1211.1 L1269.7 1216.6" fill="none" stroke="#000" stroke-width="0.8" stroke-linejoin="round"/>
<path d="M1256.7 1181.2 L1261.6 1183.5 L1261.3 1189.1 L1266.1 1191.4 L1265.9 1196.9 L1270.6 1199.2 L1270.5 1204.8 L1275 1207.1 L1275.1 1212.6" fill="none" stroke="#000" stroke-width="0.8" stroke-linejoin="round"/>
<path d="M830 930.5 L844 928.3 L849.5 936 L849.5 944 L846 948.5 L836.3 953.5 Z" fill="#fff" stroke="#000" stroke-width="2"/>
<ellipse cx="846.5" cy="938.1" rx="3.5" ry="9.5" transform="rotate(-8 846.5 938.1)" fill="#fff" stroke="#000" stroke-width="1.6"/>
<ellipse cx="829.9" cy="942.6" rx="7.7" ry="12.1" transform="rotate(-12 829.9 942.6)" fill="#fff" stroke="#000" stroke-width="2.2"/>
<ellipse cx="830.8" cy="943.5" rx="4.6" ry="7.2" transform="rotate(-12 830.8 943.5)" fill="none" stroke="#000" stroke-width="1.3"/>
<path d="M833 931 L838 952" fill="none" stroke="#000" stroke-width="1"/>
<path d="M882.3 988.4 L893 987.8 L897.8 993 L897.8 1002 L894 1005.5 L887.4 1008.4 Z" fill="#fff" stroke="#000" stroke-width="2"/>
<ellipse cx="894.5" cy="996.5" rx="3" ry="8" transform="rotate(-8 894.5 996.5)" fill="#fff" stroke="#000" stroke-width="1.4"/>
<ellipse cx="882.3" cy="998.2" rx="7" ry="10.2" transform="rotate(-12 882.3 998.2)" fill="#fff" stroke="#000" stroke-width="2.2"/>
<ellipse cx="882.8" cy="998.5" rx="3.6" ry="6" transform="rotate(-12 882.8 998.5)" fill="none" stroke="#000" stroke-width="1.3"/>
<path d="M886 989 L889 1007" fill="none" stroke="#000" stroke-width="1"/>
<path d="M1126 848.5 L1141 842 L1147 845 L1147 864 L1141 866.5 L1128 866.5 Z" fill="#fff" stroke="#000" stroke-width="2"/>
<ellipse cx="1146.5" cy="853.5" rx="8.3" ry="13.2" transform="rotate(0 1146.5 853.5)" fill="#fff" stroke="#000" stroke-width="2.4"/>
<ellipse cx="1145" cy="853.8" rx="5.8" ry="10.5" transform="rotate(0 1145 853.8)" fill="none" stroke="#000" stroke-width="1"/>
<ellipse cx="1130.2" cy="857.2" rx="5.4" ry="7.6" transform="rotate(0 1130.2 857.2)" fill="#fff" stroke="#000" stroke-width="2.1"/>
<ellipse cx="1130.6" cy="857.6" rx="2.8" ry="4.6" transform="rotate(0 1130.6 857.6)" fill="none" stroke="#000" stroke-width="1.2"/>
<path d="M339.3 557.5 L339.3 330.2 L365 330.2" fill="none" stroke="#000" stroke-width="2"/>
<path d="M700.5 411 L700.5 441" fill="none" stroke="#000" stroke-width="2"/>
<path d="M758 470.5 L704 580" fill="none" stroke="#000" stroke-width="2"/>
<path d="M454.8 535 L434.8 535 L434.8 577" fill="none" stroke="#000" stroke-width="2"/>
<path d="M256 615.9 L292 615.9" fill="none" stroke="#000" stroke-width="2"/>
<path d="M907 638 L907 613" fill="none" stroke="#000" stroke-width="2"/>
<path d="M754.8 710.5 L715 710.5 L715 797.7" fill="none" stroke="#000" stroke-width="2"/>
<path d="M632.7 805.7 L632.7 779 L653.6 779" fill="none" stroke="#000" stroke-width="2"/>
<path d="M115 822 L115 796.5 L184.4 796.5" fill="none" stroke="#000" stroke-width="2"/>
<path d="M287.5 859.7 L287.5 937.8" fill="none" stroke="#000" stroke-width="2"/>
<path d="M535 879 L444 879" fill="none" stroke="#000" stroke-width="2"/>
<path d="M444 860.5 L444 925.6 L465.3 925.6" fill="none" stroke="#000" stroke-width="2"/>
<path d="M782.5 970.6 L822.2 937.5" fill="none" stroke="#000" stroke-width="2"/>
<path d="M800 1035.5 L875.2 1002.7" fill="none" stroke="#000" stroke-width="2"/>
<path d="M1153.8 851 L1227.2 851 L1227.2 934.4" fill="none" stroke="#000" stroke-width="2"/>
<path d="M946.8 1162.9 L1005 1162.9" fill="none" stroke="#000" stroke-width="2"/>
<path d="M1251.5 1238 L1251.5 1310.2" fill="none" stroke="#000" stroke-width="2"/>
<rect x="639.5" y="377.6" width="126" height="32.8" fill="#fff" stroke="#000" stroke-width="2.9"/>
<rect x="835.5" y="638.5" width="144" height="33.1" fill="#fff" stroke="#000" stroke-width="2.9"/>
<rect x="568.5" y="806.7" width="125.1" height="32.7" fill="#fff" stroke="#000" stroke-width="2.9"/>
<rect x="466.6" y="909.5" width="125" height="32.8" fill="#fff" stroke="#000" stroke-width="2.9"/>
<rect x="31.5" y="1452.3" width="262.4" height="41.2" fill="#fff" stroke="#000" stroke-width="2.4"/>
<text transform="translate(364.8 341.2) scale(1 1.094)" font-size="27.54">CLUTCH MASTER CYLINDER PUSH ROD CLEVIS</text>
<text transform="translate(642.6 403) scale(1 1.123)" font-size="21.94" font-weight="bold">12 (120, 9)</text>
<text transform="translate(763.1 480.5) scale(1 1.094)" font-size="27.55">CLUTCH PEDAL SUPPORT SUB-ASSEMBLY</text>
<text transform="translate(456.8 545) scale(1 1.087)" font-size="27.73">CLIP</text>
<text transform="translate(10.8 625.2) scale(1 1.095)" font-size="27.52">CLEVIS HOLE PIN</text>
<text transform="translate(840.7 663.2) scale(1 1.107)" font-size="22.26" font-weight="bold">37 (375, 27)</text>
<text transform="translate(759.3 719.5) scale(1 1.094)" font-size="27.56">CLUTCH PEDAL STOPPER BOLT</text>
<text transform="translate(6.6 847.1) scale(1 1.094)" font-size="27.56">CLUTCH PEDAL</text>
<text transform="translate(6.6 881.1) scale(1 1.085)" font-size="27.79">SHAFT</text>
<text transform="translate(570.5 830.8) scale(1 1.115)" font-size="22.09" font-weight="bold">18 (186, 13)</text>
<text transform="translate(75.4 964.2) scale(1 1.093)" font-size="27.57">CLUTCH PEDAL SPRING</text>
<text transform="translate(468.7 935.2) scale(1 1.114)" font-size="22.11" font-weight="bold">12 (120, 9)</text>
<text transform="translate(482.8 983) scale(1 1.099)" font-size="27.44">CLUTCH PEDAL BUSH</text>
<text transform="translate(1086.3 962.4) scale(1 1.096)" font-size="27.51">CLUTCH PEDAL BUSH</text>
<text transform="translate(72.2 1047.4) scale(1 1.096)" font-size="27.49">CLUTCH MASTER CYLINDER PUSH ROD CLEVIS BUSH</text>
<text transform="translate(508 1173.7) scale(1 1.104)" font-size="27.30">CLUTCH PEDAL SUB-ASSEMBLY</text>
<text transform="translate(1109 1338.4) scale(1 1.093)" font-size="27.57">CLUTCH PEDAL PAD</text>
<text transform="translate(41 1481.9) scale(1 1.041)" font-size="27.85">N*m (kgf*cm, ft.*lbf)</text>
<text transform="translate(301.3 1481.9) scale(1 1.055)" font-size="27.14">: Specified torque</text>
<text transform="translate(68.2 1574.2) scale(1 1.043)" font-size="27.76">Non-reusable part</text>
<text transform="translate(100.8 1663) scale(1 1.052)" font-size="27.32">MP grease</text>
<circle cx="465.3" cy="972.3" r="14.6" fill="#000"/>
<circle cx="1068.5" cy="952.5" r="14.5" fill="#000"/>
<circle cx="50.5" cy="1036.3" r="14.5" fill="#000"/>
<circle cx="45.2" cy="1565" r="14.3" fill="#000"/>
<path d="M319.3 618.3 L339 635.7 L329.5 637 L333 661.3 L318.3 663.4 L314.8 639.2 L305.3 640.5 Z" fill="#000"/>
<path d="M830.5 955.4 L833.1 981.5 L825.2 976.1 L811.3 996.2 L799.1 987.8 L813 967.6 L805.1 962.2 Z" fill="#000"/>
<path d="M849 948.4 L875.2 946.3 L869.5 954.1 L889.4 968.4 L880.8 980.4 L860.9 966.1 L855.3 973.9 Z" fill="#000"/>
<path d="M880.4 1010.4 L883.3 1036.5 L875.3 1031.1 L861.6 1051.4 L849.3 1043.1 L863.1 1022.8 L855.1 1017.4 Z" fill="#000"/>
<path d="M898.3 1006.5 L924.1 1011.5 L916.6 1017.5 L931.9 1036.6 L920.3 1045.9 L905 1026.7 L897.5 1032.7 Z" fill="#000"/>
<path d="M1126.7 844.8 L1101.1 839.1 L1108.7 833.3 L1094 813.8 L1105.8 804.8 L1120.5 824.4 L1128.2 818.6 Z" fill="#000"/>
<path d="M1130.6 869.5 L1138 894.7 L1129.2 890.8 L1119.3 913.2 L1105.7 907.1 L1115.7 884.8 L1106.9 880.9 Z" fill="#000"/>
<path d="M1027.3 974 L1053.5 974.6 L1047.2 981.7 L1065.5 998 L1055.7 1009.1 L1037.3 992.8 L1031 1000 Z" fill="#000"/>
<path d="M33.9 1654.4 L65.9 1636.4 L65.9 1645.9 L87.1 1645.9 L87.1 1662.9 L65.9 1662.9 L65.9 1672.4 Z" fill="#000"/>
</svg>
</body></html>
